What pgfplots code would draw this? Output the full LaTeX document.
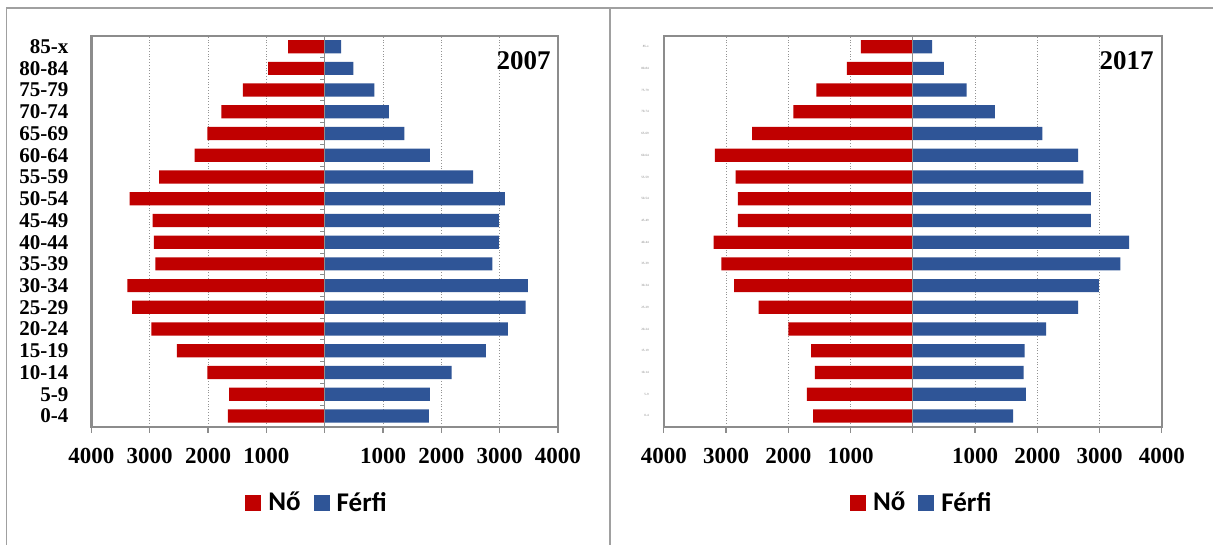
\documentclass[border=0pt]{standalone}
\usepackage{pgfplots}
\pgfplotsset{compat=1.18}
\usepackage{pgfplotstable}
\usepackage{fontspec}
\setmainfont{Liberation Serif}
\newfontfamily\carlito{Carlito}
\definecolor{nored}{RGB}{192,0,0}
\definecolor{ferfiblue}{RGB}{47,85,151}
\definecolor{framegray}{RGB}{160,160,160}
\definecolor{boxgray}{RGB}{140,140,140}

% y: 0 = 0-4 ... 17 = 85-x ; f = Nő (negative), m = Férfi
\pgfplotstableread{
y f m
0 -1660 1785
1 -1640 1805
2 -2010 2175
3 -2535 2765
4 -2970 3140
5 -3300 3445
6 -3385 3485
7 -2905 2875
8 -2930 2985
9 -2950 2985
10 -3345 3090
11 -2840 2545
12 -2230 1805
13 -2010 1365
14 -1770 1100
15 -1405 850
16 -970 490
17 -625 280
}\dataA

\pgfplotstableread{
y f m
0 -1600 1610
1 -1700 1815
2 -1575 1780
3 -1635 1795
4 -2000 2140
5 -2475 2655
6 -2870 2990
7 -3075 3335
8 -3200 3475
9 -2810 2860
10 -2810 2860
11 -2845 2740
12 -3180 2655
13 -2580 2080
14 -1920 1320
15 -1550 865
16 -1060 500
17 -835 310
}\dataB

\pgfplotsset{pyr/.style={
  xbar, scale only axis, height=195.5pt,
  anchor=south west,
  xmin=-4000, xmax=4000, ymin=-0.5, ymax=17.5,
  xtick={-4000,-3000,-2000,-1000,0,1000,2000,3000,4000},
  xticklabels={4000,3000,2000,1000,,1000,2000,3000,4000},
  xtick pos=bottom, xtick align=outside,
  major tick length=3pt,
  ytick={0,...,17},
  yticklabels={0-4,5-9,10-14,15-19,20-24,25-29,30-34,35-39,40-44,45-49,50-54,55-59,60-64,65-69,70-74,75-79,80-84,85-x},
  ytick style={draw=none},
  xtick style={boxgray, line width=0.6pt},
  xmajorgrids, major grid style={densely dotted, gray!85, line width=0.4pt},
  axis line style={boxgray, line width=1.1pt},
  xticklabel style={font=\fontsize{11.5}{12}\selectfont\bfseries, yshift=-4pt},
  legend columns=2,
  legend style={draw=none, fill=none, font=\carlito\bfseries\fontsize{13.5}{16}\selectfont,
    inner sep=1pt,
    /tikz/every odd column/.append style={column sep=1.5pt},
    /tikz/every even column/.append style={column sep=4.5pt}},
  legend image code/.code={\fill[##1] (0pt,-4pt) rectangle (8pt,4pt);},
  clip=false,
}}

\begin{document}
\begin{tikzpicture}
\useasboundingbox (0,0) rectangle (606.5pt,272.5pt);
\fill[white] (0,0) rectangle (606.5pt,272.5pt);
% frame
\draw[framegray, line width=0.8pt] (3.25pt,0) -- (3.25pt,268.5pt) -- (606.5pt,268.5pt);
\draw[framegray, line width=0.8pt] (305pt,0) -- (305pt,268.5pt);

\begin{axis}[pyr, at={(45.7pt,59.1pt)}, width=233.3pt,
  yticklabel style={font=\fontsize{10.5}{12}\selectfont\bfseries, xshift=-5pt},
  legend style={at={(0.486,-0.195)}, anchor=center}]
\addplot[fill=nored, draw=none, bar width=6.6pt, bar shift=0pt] table[x=f, y=y] {\dataA};
\addplot[fill=ferfiblue, draw=none, bar width=6.6pt, bar shift=0pt] table[x=m, y=y] {\dataA};
\legend{Nő, Férfi}
\draw[boxgray, line width=0.6pt] (axis cs:0,-0.5) -- (axis cs:0,17.5);
\pgfplotsinvokeforeach{0,...,16}{\draw[boxgray, line width=0.5pt] (axis cs:-80,#1+0.5) -- (axis cs:0,#1+0.5);}
\end{axis}
\node[anchor=base east, inner sep=0pt, font=\fontsize{13.5}{15}\selectfont\bfseries] at (275.5pt,237.7pt) {2007};

\begin{axis}[pyr, at={(331.9pt,59.1pt)}, width=249pt,
  yticklabel style={font=\fontsize{1.6}{2}\selectfont, text=gray, xshift=-1pt},
  legend style={at={(0.52,-0.195)}, anchor=center}]
\addplot[fill=nored, draw=none, bar width=6.6pt, bar shift=0pt] table[x=f, y=y] {\dataB};
\addplot[fill=ferfiblue, draw=none, bar width=6.6pt, bar shift=0pt] table[x=m, y=y] {\dataB};
\legend{Nő, Férfi}
\draw[boxgray, line width=0.6pt] (axis cs:0,-0.5) -- (axis cs:0,17.5);
\end{axis}
\node[anchor=base east, inner sep=0pt, font=\fontsize{13.5}{15}\selectfont\bfseries] at (577pt,237.7pt) {2017};
\end{tikzpicture}
\end{document}
